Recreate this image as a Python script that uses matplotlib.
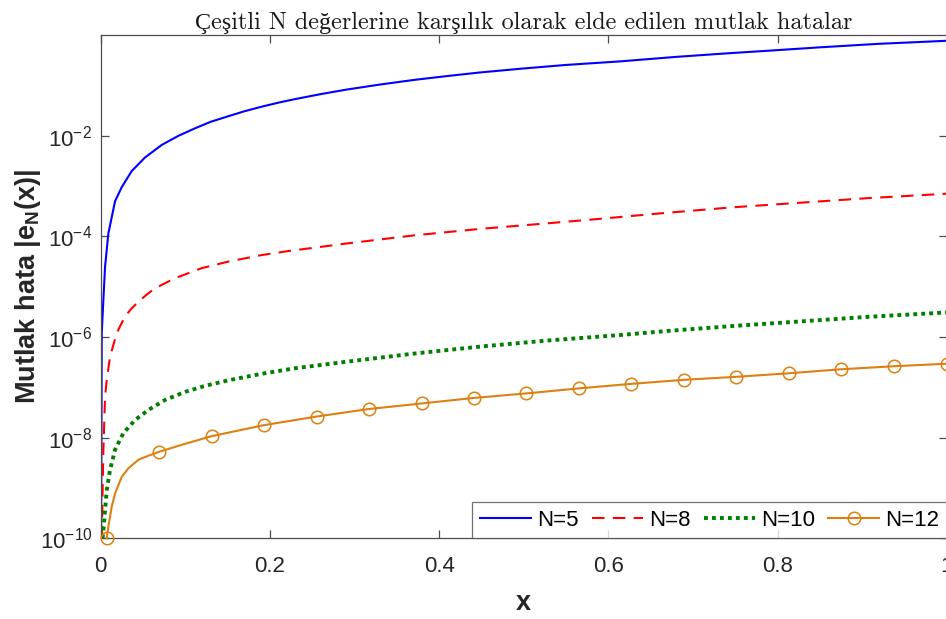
import matplotlib
matplotlib.use("Agg")
import matplotlib.pyplot as plt
import numpy as np

# absolute error samples for each N (x, log10 |e_N(x)|)
x_n5 = [0.0004, 0.0012, 0.0031, 0.0051, 0.0090, 0.0169, 0.0248, 0.0366, 0.0523, 0.0721,
        0.0917, 0.1114, 0.1300, 0.1507, 0.1700, 0.1902, 0.2100, 0.2295, 0.2600, 0.2906,
        0.3300, 0.3693, 0.4100, 0.4481, 0.5000, 0.5500, 0.6135, 0.6800, 0.7400, 0.7868,
        0.8500, 0.9200, 1.0]
log_n5 = [-10.0, -5.92, -5.26, -4.60, -3.94, -3.30, -3.02, -2.70, -2.43, -2.18,
          -2.00, -1.85, -1.72, -1.61, -1.51, -1.42, -1.34, -1.27, -1.17, -1.08,
          -0.98, -0.89, -0.81, -0.74, -0.66, -0.59, -0.52, -0.43, -0.36, -0.31,
          -0.24, -0.17, -0.11]

x_n8 = [0.0012, 0.0030, 0.0051, 0.0071, 0.0110, 0.0189, 0.0287, 0.0360, 0.0444, 0.0540,
        0.0641, 0.0878, 0.1193, 0.1507, 0.1902, 0.2216, 0.2906, 0.3693, 0.4481, 0.5269,
        0.5898, 0.6686, 0.7473, 0.8261, 0.9049, 1.0]
log_n8 = [-10.0, -8.3, -7.18, -6.85, -6.39, -5.92, -5.59, -5.44, -5.30, -5.16,
          -5.03, -4.83, -4.63, -4.50, -4.37, -4.29, -4.14, -3.98, -3.85, -3.74,
          -3.65, -3.53, -3.42, -3.33, -3.24, -3.15]

x_n10 = [0.0022, 0.0031, 0.0071, 0.0110, 0.0169, 0.0267, 0.0405, 0.0562, 0.0760, 0.0996,
         0.1232, 0.1507, 0.1902, 0.2295, 0.2906, 0.3693, 0.4481, 0.5269, 0.6135, 0.6686,
         0.7473, 0.8261, 0.9049, 1.0]
log_n10 = [-10.0, -9.84, -9.04, -8.64, -8.24, -7.91, -7.65, -7.45, -7.25, -7.09,
           -6.97, -6.86, -6.73, -6.62, -6.49, -6.33, -6.19, -6.07, -5.96, -5.88,
           -5.78, -5.69, -5.60, -5.51]

x_n12 = [0.0071, 0.0090, 0.0130, 0.0169, 0.0248, 0.0326, 0.0444, 0.0562, 0.0691, 0.1000,
         0.1311, 0.1931, 0.2551, 0.3171, 0.3791, 0.4411, 0.5031, 0.5651, 0.6271, 0.6891,
         0.7511, 0.8131, 0.8751, 0.9371, 1.0]
log_n12 = [-10.0, -9.77, -9.37, -9.11, -8.78, -8.61, -8.44, -8.36, -8.28, -8.12,
           -7.97, -7.75, -7.58, -7.43, -7.32, -7.21, -7.12, -7.02, -6.93, -6.85,
           -6.79, -6.72, -6.64, -6.58, -6.53]
# x positions carrying circle markers on the N=12 curve
x_n12_marks = [0.0071, 0.0691, 0.1311, 0.1931, 0.2551, 0.3171, 0.3791, 0.4411, 0.5031,
               0.5651, 0.6271, 0.6891, 0.7511, 0.8131, 0.8751, 0.9371, 1.0]

x_ticks = [0, 0.2, 0.4, 0.6, 0.8, 1]
x_ticklabels = ["0", "0.2", "0.4", "0.6", "0.8", "1"]
y_ticks = [1e-10, 1e-8, 1e-6, 1e-4, 1e-2]

title = "Çeşitli N değerlerine karşılık olarak elde edilen mutlak hatalar"

plt.rcParams["font.family"] = ["Liberation Sans", "DejaVu Sans"]
plt.rcParams["mathtext.fontset"] = "custom"
plt.rcParams["mathtext.rm"] = "Liberation Sans"
plt.rcParams["mathtext.bf"] = "Liberation Sans:bold"

fig = plt.figure(figsize=(9.46, 6.19), dpi=100)
ax = fig.add_axes([0.1065, 0.1304, 0.8944, 0.8123])

ax.plot(x_n5, 10.0 ** np.array(log_n5), color="#0000ff", lw=1.5, label="N=5")
ax.plot(x_n8, 10.0 ** np.array(log_n8), color="#ff0000", lw=1.5, dashes=(6, 4), label="N=8")
ax.plot(x_n10, 10.0 ** np.array(log_n10), color="#008000", lw=2.8, dashes=(1, 1.05), label="N=10")

y12 = 10.0 ** np.array(log_n12)
mark_idx = [x_n12.index(v) for v in x_n12_marks]
ax.plot(x_n12, y12, color="#dd8010", lw=1.5, marker="o", markersize=9,
        markerfacecolor="none", markeredgewidth=1.1, markevery=mark_idx,
        label="N=12", clip_on=False, zorder=3)

ax.set_yscale("log")
ax.set_xlim(0, 1)
ax.set_ylim(1e-10, 0.99)
ax.set_xticks(x_ticks)
ax.set_xticklabels(x_ticklabels)
ax.set_yticks(y_ticks)
ax.minorticks_off()

axis_col = "#4d4d4d"
for sp in ax.spines.values():
    sp.set_color(axis_col)
    sp.set_linewidth(0.9)
ax.tick_params(direction="in", length=6, width=0.9, color=axis_col,
               labelcolor="#262626", labelsize=16, top=True, right=True)
ax.tick_params(axis="x", pad=13)
ax.tick_params(axis="y", pad=6)

ax.set_title(title, family=["cmr10", "Liberation Serif"], fontsize=17.4, color="#1a1a1a", pad=5)
ax.set_xlabel("x", fontsize=19.5, fontweight="bold", color="#262626", labelpad=9)
ax.set_ylabel(r"Mutlak hata |e$_{\mathbf{N}}$(x)|", fontsize=19.5, fontweight="bold",
              color="#262626")
ax.yaxis.set_label_coords(-0.068, 0.5)

leg = ax.legend(loc="lower right", ncol=4, fontsize=16, frameon=True, fancybox=False,
                borderaxespad=0, handlelength=2.3, handletextpad=0.27, columnspacing=0.6,
                borderpad=0.35)
leg.get_frame().set_edgecolor(axis_col)
leg.get_frame().set_linewidth(0.9)

fig.savefig("out.png", dpi=100)
